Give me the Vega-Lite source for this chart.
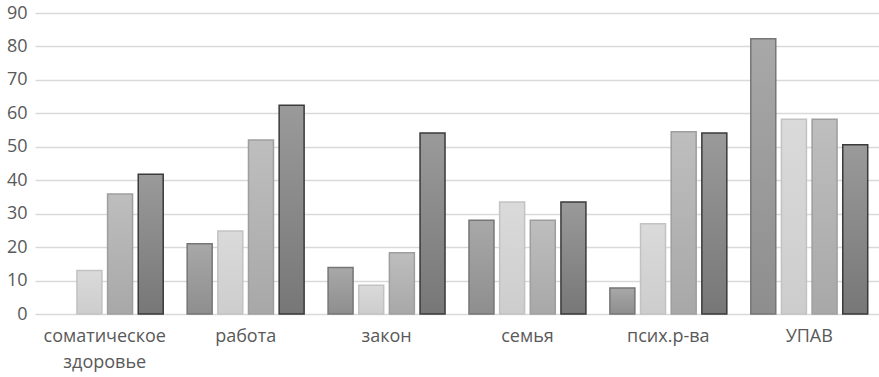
{
  "$schema": "https://vega.github.io/schema/vega-lite/v6.json",
  "width": 844,
  "height": 301,
  "autosize": {"type": "none"},
  "padding": {"left": 35, "top": 13, "right": 0, "bottom": 63},
  "background": "white",
  "config": {
    "view": {"stroke": null},
    "axis": {"labelFont": "Open Sans", "labelColor": "#595959", "labelFontSize": 18}
  },
  "data": {
    "values": [
      {"category": "соматическое здоровье", "series": "s2", "value": 13.0},
      {"category": "соматическое здоровье", "series": "s3", "value": 35.9},
      {"category": "соматическое здоровье", "series": "s4", "value": 41.8},
      {"category": "работа", "series": "s1", "value": 21.0},
      {"category": "работа", "series": "s2", "value": 24.8},
      {"category": "работа", "series": "s3", "value": 52.0},
      {"category": "работа", "series": "s4", "value": 62.4},
      {"category": "закон", "series": "s1", "value": 13.9},
      {"category": "закон", "series": "s2", "value": 8.6},
      {"category": "закон", "series": "s3", "value": 18.3},
      {"category": "закон", "series": "s4", "value": 54.1},
      {"category": "семья", "series": "s1", "value": 28.0},
      {"category": "семья", "series": "s2", "value": 33.5},
      {"category": "семья", "series": "s3", "value": 28.0},
      {"category": "семья", "series": "s4", "value": 33.5},
      {"category": "псих.р-ва", "series": "s1", "value": 7.8},
      {"category": "псих.р-ва", "series": "s2", "value": 27.0},
      {"category": "псих.р-ва", "series": "s3", "value": 54.5},
      {"category": "псих.р-ва", "series": "s4", "value": 54.1},
      {"category": "УПАВ", "series": "s1", "value": 82.3},
      {"category": "УПАВ", "series": "s2", "value": 58.2},
      {"category": "УПАВ", "series": "s3", "value": 58.2},
      {"category": "УПАВ", "series": "s4", "value": 50.6}
    ]
  },
  "encoding": {
    "x": {
      "field": "category", "type": "nominal",
      "sort": ["соматическое здоровье", "работа", "закон", "семья", "псих.р-ва", "УПАВ"],
      "scale": {"domain": ["соматическое здоровье", "работа", "закон", "семья", "псих.р-ва", "УПАВ"], "paddingInner": 0.17, "paddingOuter": 0.08},
      "axis": {"title": null, "labelAngle": 0, "domain": false, "ticks": false, "labelPadding": 13,
               "labelExpr": "split(datum.label, ' ')", "labelLineHeight": 26}
    },
    "xOffset": {"field": "series", "type": "nominal", "scale": {"domain": ["s1", "s2", "s3", "s4"], "paddingInner": 0.185, "paddingOuter": 0}},
    "y": {
      "field": "value", "type": "quantitative",
      "scale": {"domain": [0, 90], "nice": false},
      "axis": {"title": null, "values": [0,10,20,30,40,50,60,70,80,90], "labelOverlap": false, "labelBound": false, "domain": false, "ticks": false, "labelPadding": 8,
               "grid": true, "gridColor": "#d9d9d9", "gridWidth": 1.3}
    }
  },
  "layer": [
    {
      "transform": [{"filter": "datum.series === 's1'"}],
      "mark": {"type": "bar", "strokeWidth": 1.5, "stroke": "#767676",
        "color": {"gradient": "linear", "x1": 0, "y1": 0, "x2": 0, "y2": 1,
          "stops": [{"offset": 0, "color": "#a8a8a8"}, {"offset": 1, "color": "#8e8e8e"}]}}
    },
    {
      "transform": [{"filter": "datum.series === 's2'"}],
      "mark": {"type": "bar", "strokeWidth": 1.5, "stroke": "#c2c2c2",
        "color": {"gradient": "linear", "x1": 0, "y1": 0, "x2": 0, "y2": 1,
          "stops": [{"offset": 0, "color": "#dadada"}, {"offset": 1, "color": "#cdcdcd"}]}}
    },
    {
      "transform": [{"filter": "datum.series === 's3'"}],
      "mark": {"type": "bar", "strokeWidth": 1.5, "stroke": "#9e9e9e",
        "color": {"gradient": "linear", "x1": 0, "y1": 0, "x2": 0, "y2": 1,
          "stops": [{"offset": 0, "color": "#bebebe"}, {"offset": 1, "color": "#a8a8a8"}]}}
    },
    {
      "transform": [{"filter": "datum.series === 's4'"}],
      "mark": {"type": "bar", "strokeWidth": 1.5, "stroke": "#3a3a3a",
        "color": {"gradient": "linear", "x1": 0, "y1": 0, "x2": 0, "y2": 1,
          "stops": [{"offset": 0, "color": "#9a9a9a"}, {"offset": 1, "color": "#777777"}]}}
    }
  ]
}
